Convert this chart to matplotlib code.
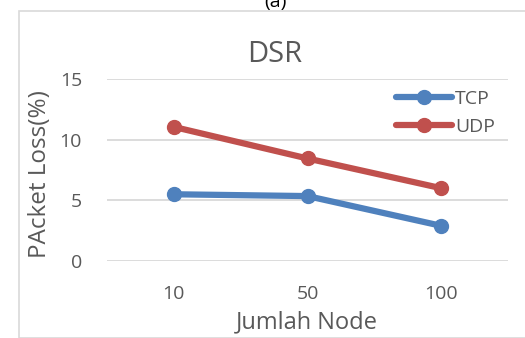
import matplotlib
matplotlib.use("Agg")
import matplotlib.pyplot as plt
from matplotlib.patches import Rectangle

plt.rcParams['font.family'] = ['Open Sans', 'DejaVu Sans']

# Data
nodes = ["10", "50", "100"]
tcp = [5.5, 5.35, 2.9]
udp = [11.05, 8.45, 6.0]
yticks = [0, 5, 10, 15]

TEXT = "#595959"
GRID = "#D9D9D9"
BLUE = "#4F81BD"
RED = "#C0504D"

W, H = 525, 338
fig = plt.figure(figsize=(W / 100, H / 100), dpi=100)

# chart frame
fig.patches.append(Rectangle((18.5 / W, 0), 1.0, 1 - 11 / H, transform=fig.transFigure,
                             fill=False, edgecolor=GRID, linewidth=1.2))
fig.text(275 / W, 1 - 7 / H, "(a)", ha="center", va="baseline", fontsize=14, color="black")

ax = fig.add_axes([107 / W, 1 - 261 / H, 401 / W, 182 / H])
ax.set_xlim(-0.5, 2.5)
ax.set_ylim(0, 15)
for s in ax.spines.values():
    s.set_visible(False)
for yv in yticks:
    ax.axhline(yv, color=GRID, linewidth=1.3, zorder=0)

x = range(len(nodes))
ax.plot(x, tcp, color=BLUE, linewidth=4.5, marker="o", markersize=10, label="TCP",
        clip_on=False, solid_capstyle="round")
ax.plot(x, udp, color=RED, linewidth=4.5, marker="o", markersize=10, label="UDP",
        clip_on=False, solid_capstyle="round")

ax.set_yticks(yticks)
ax.set_xticks(list(x))
ax.set_xticklabels(nodes)
ax.tick_params(axis="both", length=0, labelsize=14, labelcolor=TEXT)
ax.tick_params(axis="y", pad=18)
ax.tick_params(axis="x", pad=17.5)

fig.text(40 / W, 1 - 174 / H, "PAcket Loss(%)", rotation=90, ha="center", va="center",
         fontsize=17.5, color=TEXT)
fig.text(307 / W, 1 - 322 / H, "Jumlah Node", ha="center", va="center",
         fontsize=17, color=TEXT)
fig.text(275 / W, 1 - 54 / H, "DSR", ha="center", va="center", fontsize=21, color=TEXT)

leg = ax.legend(loc="upper left", bbox_to_anchor=(396 / W, 1 - 90 / H),
                bbox_transform=fig.transFigure, frameon=False, fontsize=14,
                handlelength=2.9, handletextpad=0.15, labelspacing=0.5,
                borderaxespad=0, borderpad=0)
for t in leg.get_texts():
    t.set_color(TEXT)

fig.savefig("out.png", dpi=100)
